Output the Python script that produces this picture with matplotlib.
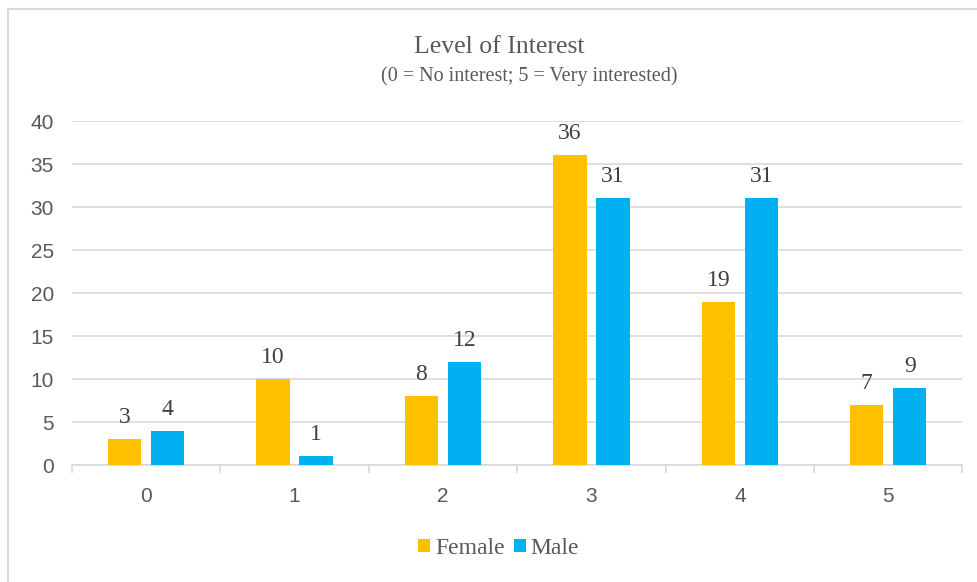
import matplotlib.pyplot as plt
import numpy as np
from matplotlib.lines import Line2D

categories = ['0', '1', '2', '3', '4', '5']
female = [3, 10, 8, 36, 19, 7]
male = [4, 1, 12, 31, 31, 9]

fig = plt.figure(figsize=(9.78, 5.82), dpi=100)
ax = fig.add_axes([0.0736, 0.201, 0.9105, 0.591])

# chart border (only left and top edges visible in the crop)
fig.lines.append(Line2D([0.0077, 0.0077], [0.0, 0.984], transform=fig.transFigure,
                        color='#d9d9d9', linewidth=1.5))
fig.lines.append(Line2D([0.0077, 1.0], [0.984, 0.984], transform=fig.transFigure,
                        color='#d9d9d9', linewidth=1.5))

x = np.arange(len(categories))
w = 0.225
b1 = ax.bar(x - 0.145, female, w, color='#FFC000', label='Female', zorder=3)
b2 = ax.bar(x + 0.145, male, w, color='#00B0F0', label='Male', zorder=3)

serif = ['Liberation Serif', 'DejaVu Serif']
sans = ['Liberation Sans', 'DejaVu Sans']
for bars in (b1, b2):
    for r in bars:
        ax.annotate(str(int(r.get_height())), (r.get_x() + r.get_width() / 2, r.get_height()),
                    xytext=(0, 8), textcoords='offset points', ha='center', va='bottom',
                    fontsize=17, family=serif, color='#404040')

ax.set_xlim(-0.5, 5.5)
ax.set_ylim(0, 40)
ax.set_yticks(range(0, 41, 5))
ax.set_xticks(x)
ax.set_xticklabels(categories)
ax.set_xticks(np.arange(-0.5, 6, 1), minor=True)
ax.tick_params(axis='x', which='major', length=0, pad=16, labelsize=15, labelcolor='#595959')
ax.tick_params(axis='x', which='minor', length=6, color='#d9d9d9', width=1.2)
ax.tick_params(axis='y', length=0, pad=13, labelsize=15, labelcolor='#595959')
for t in ax.get_xticklabels() + ax.get_yticklabels():
    t.set_family(sans)
ax.grid(axis='y', color='#d9d9d9', linewidth=1.2, zorder=0)
for s in ['top', 'right', 'left']:
    ax.spines[s].set_visible(False)
ax.spines['bottom'].set_color('#d9d9d9')
ax.spines['bottom'].set_linewidth(1.2)

fig.text(0.510, 0.919, 'Level of Interest', ha='center', va='center',
         fontsize=18.5, family=serif, color='#595959')
fig.text(0.541, 0.869, '(0 = No interest; 5 = Very interested)', ha='center', va='center',
         fontsize=14.5, family=serif, color='#595959')

fig.legend(loc='center', bbox_to_anchor=(0.510, 0.058), ncol=2, frameon=False,
           prop={'family': serif, 'size': 17}, handlelength=0.5, handleheight=0.5,
           handletextpad=0.2, columnspacing=0.4, labelcolor='#595959')

plt.savefig('out.png', dpi=100)
